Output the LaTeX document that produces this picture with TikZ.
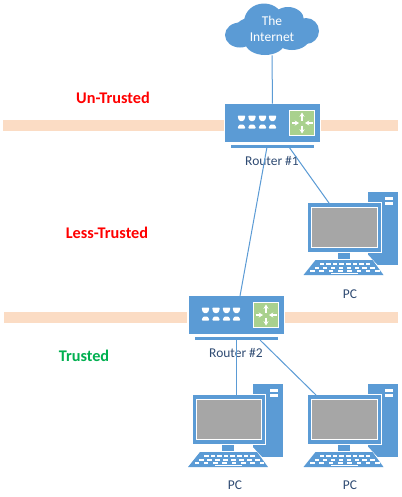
\documentclass[tikz,border=0pt]{standalone}
\usepackage{fontspec}
\setmainfont{Carlito}
\usetikzlibrary{arrows.meta}
\definecolor{netblue}{HTML}{5B9BD5}
\definecolor{bandpeach}{HTML}{FBDCC4}
\definecolor{netgreen}{HTML}{A9D18E}
\definecolor{screengrey}{HTML}{A6A6A6}
\definecolor{labelblue}{HTML}{2F4B73}
\definecolor{zonered}{HTML}{FF0000}
\definecolor{zonegreen}{HTML}{00B050}
\tikzset{
  link/.style={draw=netblue,line width=0.75pt},
  band/.style={fill=bandpeach,draw=none},
  devlabel/.style={text=labelblue,font=\fontsize{10.1}{12}\selectfont,inner sep=0pt},
  zonelabel/.style={font=\fontsize{12.2}{14}\selectfont\bfseries,inner sep=0pt},
  routerbox/.style={fill=netblue,draw=none,minimum width=71.25pt,minimum height=28.5pt,inner sep=0pt},
  monitorbox/.style={fill=netblue,draw=white,line width=0.75pt,minimum width=55pt,minimum height=37pt,inner sep=0pt},
  routerarrow/.style={white,line width=0.9pt,-{Stealth[length=3.2pt,width=3.8pt]}},
  pics/routerdev/.style={code={
    \fill[netblue] (-41.5,21.5) rectangle (41.5,25);
    \fill[netgreen,draw=white,line width=0.7pt] (17,-12.5) rectangle (42,12.5);
    \draw[routerarrow] (29.5,-2.5) -- (29.5,-10.5);
    \draw[routerarrow] (29.5,2.5) -- (29.5,10.5);
    \draw[routerarrow] (19,0) -- (26.5,0);
    \draw[routerarrow] (40,0) -- (32.5,0);
    \foreach \x in {-31,-20.5,-10,0}{
      \fill[white,rounded corners=0.6pt] (\x-3.8,-7.5) -- (\x+3.8,-7.5) -- (\x+3.2,-4) -- (\x+1.8,-2) -- (\x-1.8,-2) -- (\x-3.2,-4) -- cycle;
      \fill[white,rounded corners=0.6pt] (\x-3.8,5.5) -- (\x+3.8,5.5) -- (\x+3.2,3) -- (\x+1.8,1.5) -- (\x-1.8,1.5) -- (\x-3.2,3) -- cycle;
    }
  }},
  pics/pcdev/.style={code={
    \fill[netblue] (23.5,-11) rectangle (53.5,62);
    \fill[white] (40.5,-6) rectangle (48.5,-3.2);
    \fill[white] (40.5,-1) rectangle (48.5,1.8);
    \fill[netblue] (-7,48) rectangle (5,56);
    \fill[white] (20,48) -- (33,62) -- (23.5,62) -- (20,58) -- cycle;
    \fill[netblue] (-29,57) -- (28,57) -- (39,72) -- (-41,72) -- cycle;
    \foreach \y/\s in {60/0,63.5/-1.5,67/-3}{
      \foreach \i in {0,...,7}{
        \fill[white] ({-25+\i*6.6+\s*(3.5-\i)*0.9},\y) rectangle ++(4.6,2.2);
      }
    }
    \fill[white] (-14,69.6) rectangle (13,71);
  }}
}
\begin{document}
\begin{tikzpicture}[x=0.75pt,y=-0.75pt]
\useasboundingbox (0,0) rectangle (402,497);
\fill[white] (0,0) rectangle (402,497);
% zone bands
\fill[band] (3,120) rectangle (224,131);
\fill[band] (321,120) rectangle (398,131);
\fill[band] (4,312) rectangle (187,323);
\fill[band] (285,312) rectangle (398,323);
% cloud
\fill[netblue] (240,35) ellipse (15 and 12.5);
\fill[netblue] (264,22) ellipse (20 and 18.5);
\fill[netblue] (288,20) ellipse (16 and 13);
\fill[netblue] (306,31) ellipse (13 and 13);
\fill[netblue] (265,42) ellipse (20 and 13);
\fill[netblue] (292,37) ellipse (18 and 13);
\fill[netblue] (250,32) ellipse (16 and 14);
\node[inner sep=0pt,minimum width=70.5pt,minimum height=39pt,align=center,text=white,font=\fontsize{10.1}{12.4}\selectfont] (cloud) at (272,29) {The\\Internet};
% routers
\node[routerbox] (r1) at (272.5,123) {};
\pic at (272.5,123) {routerdev};
\node[devlabel] (r1lab) at (272,161) {Router \#1};
\node[routerbox] (r2) at (236.5,315) {};
\pic at (236.5,315) {routerdev};
\node[devlabel] (r2lab) at (236,353) {Router \#2};
% PCs
\pic at (344.5,203) {pcdev};
\node[monitorbox] (pca) at (344.5,227.5) {};
\fill[screengrey,draw=white,line width=0.75pt] (311.5,207.5) rectangle (377,247);
\node[devlabel] (pcalab) at (350,294) {PC};
\pic at (344.5,395) {pcdev};
\node[monitorbox] (pcb) at (344.5,419.5) {};
\fill[screengrey,draw=white,line width=0.75pt] (311.5,399.5) rectangle (377,439);
\node[devlabel] (pcblab) at (350,485) {PC};
\pic at (229,395) {pcdev};
\node[monitorbox] (pcc) at (229,419.5) {};
\fill[screengrey,draw=white,line width=0.75pt] (196,399.5) rectangle (261.5,439);
\node[devlabel] (pcclab) at (235,485) {PC};
% free ends of the connectors
\coordinate (r1a) at (267,147);
\coordinate (r1b) at (289,147);
\coordinate (r2top) at (240,296);
\coordinate (r2a) at (236.5,340);
\coordinate (r2b) at (260,340);
\coordinate (pcatop) at (329,203);
\coordinate (pcbtop) at (316,395);
\coordinate (pcctop) at (236.5,395);
% connectors
\draw[link] (cloud.south) -- (r1.north);
\draw[link] (r1a) -- (r2top);
\draw[link] (r1b) -- (pcatop);
\draw[link] (r2a) -- (pcctop);
\draw[link] (r2b) -- (pcbtop);
% zones
\node[zonelabel,text=zonered] (z1) at (113,98) {Un-Trusted};
\node[zonelabel,text=zonered] (z2) at (107,233) {Less-Trusted};
\node[zonelabel,text=zonegreen] (z3) at (84,356) {Trusted};
\end{tikzpicture}
\end{document}
